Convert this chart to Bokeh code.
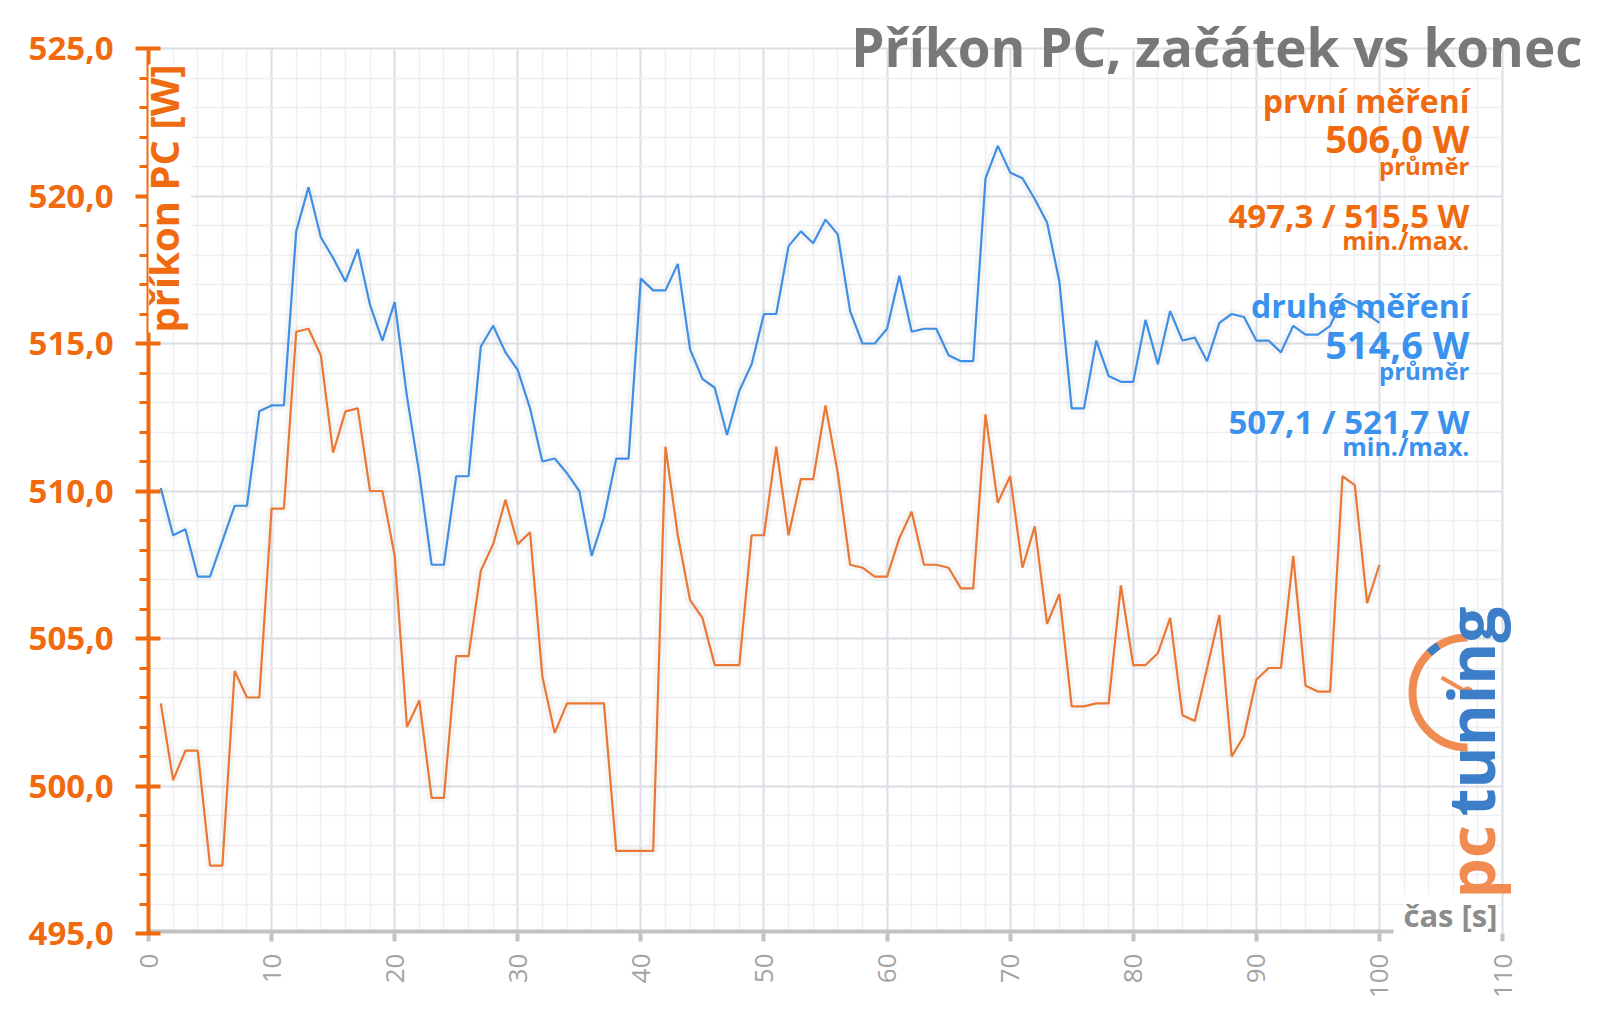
import math
from bokeh.plotting import figure
from bokeh.models import SingleIntervalTicker, CustomJSTickFormatter, Label, Range1d
from bokeh.embed import file_html
from bokeh.resources import INLINE

# ---------------- data ----------------
seconds = list(range(1, 101))
first_run = [
    502.8, 500.2, 501.2, 501.2, 497.3, 497.3, 503.9, 503.0, 503.0, 509.4,
    509.4, 515.4, 515.5, 514.6, 511.3, 512.7, 512.8, 510.0, 510.0, 507.8,
    502.0, 502.9, 499.6, 499.6, 504.4, 504.4, 507.3, 508.2, 509.7, 508.2,
    508.6, 503.7, 501.8, 502.8, 502.8, 502.8, 502.8, 497.8, 497.8, 497.8,
    497.8, 511.5, 508.5, 506.3, 505.7, 504.1, 504.1, 504.1, 508.5, 508.5,
    511.5, 508.5, 510.4, 510.4, 512.9, 510.6, 507.5, 507.4, 507.1, 507.1,
    508.4, 509.3, 507.5, 507.5, 507.4, 506.7, 506.7, 512.6, 509.6, 510.5,
    507.4, 508.8, 505.5, 506.5, 502.7, 502.7, 502.8, 502.8, 506.8, 504.1,
    504.1, 504.5, 505.7, 502.4, 502.2, 504.0, 505.8, 501.0, 501.7, 503.6,
    504.0, 504.0, 507.8, 503.4, 503.2, 503.2, 510.5, 510.2, 506.2, 507.5,
]
second_run = [
    510.1, 508.5, 508.7, 507.1, 507.1, 508.3, 509.5, 509.5, 512.7, 512.9,
    512.9, 518.8, 520.3, 518.6, 517.9, 517.1, 518.2, 516.3, 515.1, 516.4,
    513.2, 510.6, 507.5, 507.5, 510.5, 510.5, 514.9, 515.6, 514.7, 514.1,
    512.8, 511.0, 511.1, 510.6, 510.0, 507.8, 509.1, 511.1, 511.1, 517.2,
    516.8, 516.8, 517.7, 514.8, 513.8, 513.5, 511.9, 513.4, 514.3, 516.0,
    516.0, 518.3, 518.8, 518.4, 519.2, 518.7, 516.1, 515.0, 515.0, 515.5,
    517.3, 515.4, 515.5, 515.5, 514.6, 514.4, 514.4, 520.6, 521.7, 520.8,
    520.6, 519.9, 519.1, 517.1, 512.8, 512.8, 515.1, 513.9, 513.7, 513.7,
    515.8, 514.3, 516.1, 515.1, 515.2, 514.4, 515.7, 516.0, 515.9, 515.1,
    515.1, 514.7, 515.6, 515.3, 515.3, 515.6, 516.5, 516.3, 516.0, 515.7,
]

title_text = "Příkon PC, začátek vs konec"
y_label_text = "příkon PC [W]"
x_label_text = "čas [s]"
first_lines = ["první měření", "506,0 W", "průměr", "497,3 / 515,5 W", "min./max."]
second_lines = ["druhé měření", "514,6 W", "průměr", "507,1 / 521,7 W", "min./max."]

# axis extents and tick steps
X0, X1, Y0, Y1 = 0, 110, 495, 525
x_major_step, x_minor_step = 10, 2
y_major_step, y_minor_step = 5, 1

# ---------------- layout / styles ----------------
W, H = 1600, 1017
PL, PR, PT, PB = 148, 1502, 48, 933      # plot area in canvas pixels
kx = (PR - PL) / (X1 - X0)
ky = (PB - PT) / (Y1 - Y0)
# the frame also covers the title / logo zone (top and right)
x_range = Range1d(X0, X1 + (W - PR) / kx)
y_range = Range1d(Y0, Y1 + PT / ky)

FONT = "Open Sans"
ORANGE_TXT = "#F06A10"
ORANGE_LINE = "#EA7834"
BLUE_TXT = "#3A92EE"
BLUE_LINE = "#3F8FE4"
GREY_TITLE = "#787878"
AXIS_GREY = "#c2c2c2"

p = figure(width=W, height=H, x_range=x_range, y_range=y_range, title=None,
           output_backend="svg", toolbar_location=None,
           min_border_left=PL, min_border_right=0,
           min_border_top=0, min_border_bottom=H - PB,
           outline_line_color=None, background_fill_color="white",
           border_fill_color="white")

# ---------------- grid ----------------
xt = SingleIntervalTicker(interval=x_major_step, num_minor_ticks=x_major_step // x_minor_step)
yt = SingleIntervalTicker(interval=y_major_step, num_minor_ticks=y_major_step // y_minor_step)
p.xgrid.ticker = xt
p.ygrid.ticker = yt
p.xgrid.bounds = (X0, X1)
p.xgrid.cross_bounds = (Y0, Y1)
p.ygrid.bounds = (Y0, Y1)
p.ygrid.cross_bounds = (X0, X1)
for g in (p.xgrid, p.ygrid):
    g.grid_line_color = "#dcdfe6"
    g.grid_line_width = 2
    g.minor_grid_line_color = "#edeff3"
    g.minor_grid_line_width = 1.5

# ---------------- axes ----------------
ya = p.yaxis[0]
ya.ticker = yt
ya.bounds = (Y0, Y1)
ya.formatter = CustomJSTickFormatter(code="return tick.toFixed(1).replace('.', ',');")
ya.axis_line_color = ORANGE_TXT
ya.axis_line_width = 4
ya.major_tick_line_color = ORANGE_TXT
ya.major_tick_line_width = 4
ya.major_tick_out = 13
ya.major_tick_in = 12
ya.minor_tick_line_color = ORANGE_TXT
ya.minor_tick_line_width = 3
ya.minor_tick_out = 9
ya.minor_tick_in = 0
ya.major_label_text_font = FONT
ya.major_label_text_font_style = "bold"
ya.major_label_text_font_size = "33px"
ya.major_label_text_color = ORANGE_TXT
ya.major_label_standoff = 22

xa = p.xaxis[0]
xa.ticker = SingleIntervalTicker(interval=x_major_step, num_minor_ticks=0)
xa.bounds = (X0, X1)
xa.axis_line_color = None
xa.major_tick_line_color = AXIS_GREY
xa.major_tick_line_width = 4
xa.major_tick_out = 8
xa.major_tick_in = 0
xa.minor_tick_line_color = None
xa.major_label_orientation = math.pi / 2
xa.major_label_text_font = FONT
xa.major_label_text_font_size = "26px"
xa.major_label_text_color = "#a3a3a3"
xa.major_label_standoff = 12

# x axis line drawn as a glyph so that it stops where the axis title sits
x_line_end = X1 - (PR - 1393) / kx
p.segment(x0=[X0], y0=[Y0], x1=[x_line_end], y1=[Y0], line_color=AXIS_GREY, line_width=8)

# ---------------- series ----------------
p.line(seconds, first_run, line_color="#000000", line_alpha=0.035, line_width=10)
p.line(seconds, second_run, line_color="#000000", line_alpha=0.035, line_width=10)
p.line(seconds, first_run, line_color=ORANGE_LINE, line_width=2.2)
p.line(seconds, second_run, line_color=BLUE_LINE, line_width=2.2)

# ---------------- texts ----------------
BASE_FIX = 0.42  # empirical shift of the alphabetic baseline (in em)


def lab(text, X, Y, size, color, align="right", style="bold", angle=0.0, bg=None, font=FONT):
    if angle == 0.0:
        Y = Y - BASE_FIX * size
    else:
        X = X - BASE_FIX * size
    l = Label(x=X - PL, y=PB - Y, x_units="screen", y_units="screen", text=text,
              text_font=font, text_font_size=f"{size}px", text_font_style=style,
              text_color=color, text_align=align, text_baseline="alphabetic", angle=angle)
    if bg is not None:
        l.background_fill_color = bg
    p.add_layout(l)
    return l


# title
lab(title_text, 1582, 68, 53, GREY_TITLE)

# legend block
RX = 1469
sizes = [32, 38, 24, 33, 25]
first_base = [113, 153, 175, 229, 250]
second_base = [318, 359, 380, 435, 456]
for t, s, b in zip(first_lines, sizes, first_base):
    lab(t, RX, b, s, ORANGE_TXT)
for t, s, b in zip(second_lines, sizes, second_base):
    lab(t, RX, b, s, BLUE_TXT)

# axis titles (kept inside the drawing area)
lab(y_label_text, 180, 198, 40, ORANGE_TXT, align="center", angle=math.pi / 2, bg="white")
lab(x_label_text, 1497, 928, 31, "#8c8c8c", align="right", bg="white")

# logo (decoration)
lab("pc", 1497, 898, 64, "#F08C52", align="left", angle=math.pi / 2)
lab("tuning", 1497, 606, 64, "#3C7EC8", align="right", angle=math.pi / 2)


def dx(X):
    return X0 + (X - PL) / kx


def dy(Y):
    return Y0 + (PB - Y) / ky


LCX, LCY = 1467, 692
p.arc(x=[dx(LCX)], y=[dy(LCY)], radius=55, radius_units="screen",
      start_angle=math.pi / 2, end_angle=3 * math.pi / 2, direction="anticlock",
      line_color="#F08C52", line_width=8)
p.arc(x=[dx(LCX)], y=[dy(LCY)], radius=55, radius_units="screen",
      start_angle=math.radians(122), end_angle=math.radians(134), direction="anticlock",
      line_color="#3C7EC8", line_width=8)
p.segment(x0=[dx(1441)], y0=[dy(677)], x1=[dx(LCX)], y1=[dy(LCY)],
          line_color="#F08C52", line_width=4)
p.scatter(x=[dx(LCX)], y=[dy(LCY)], size=11, color="#F08C52")

open("out.html", "w").write(file_html(p, INLINE))
